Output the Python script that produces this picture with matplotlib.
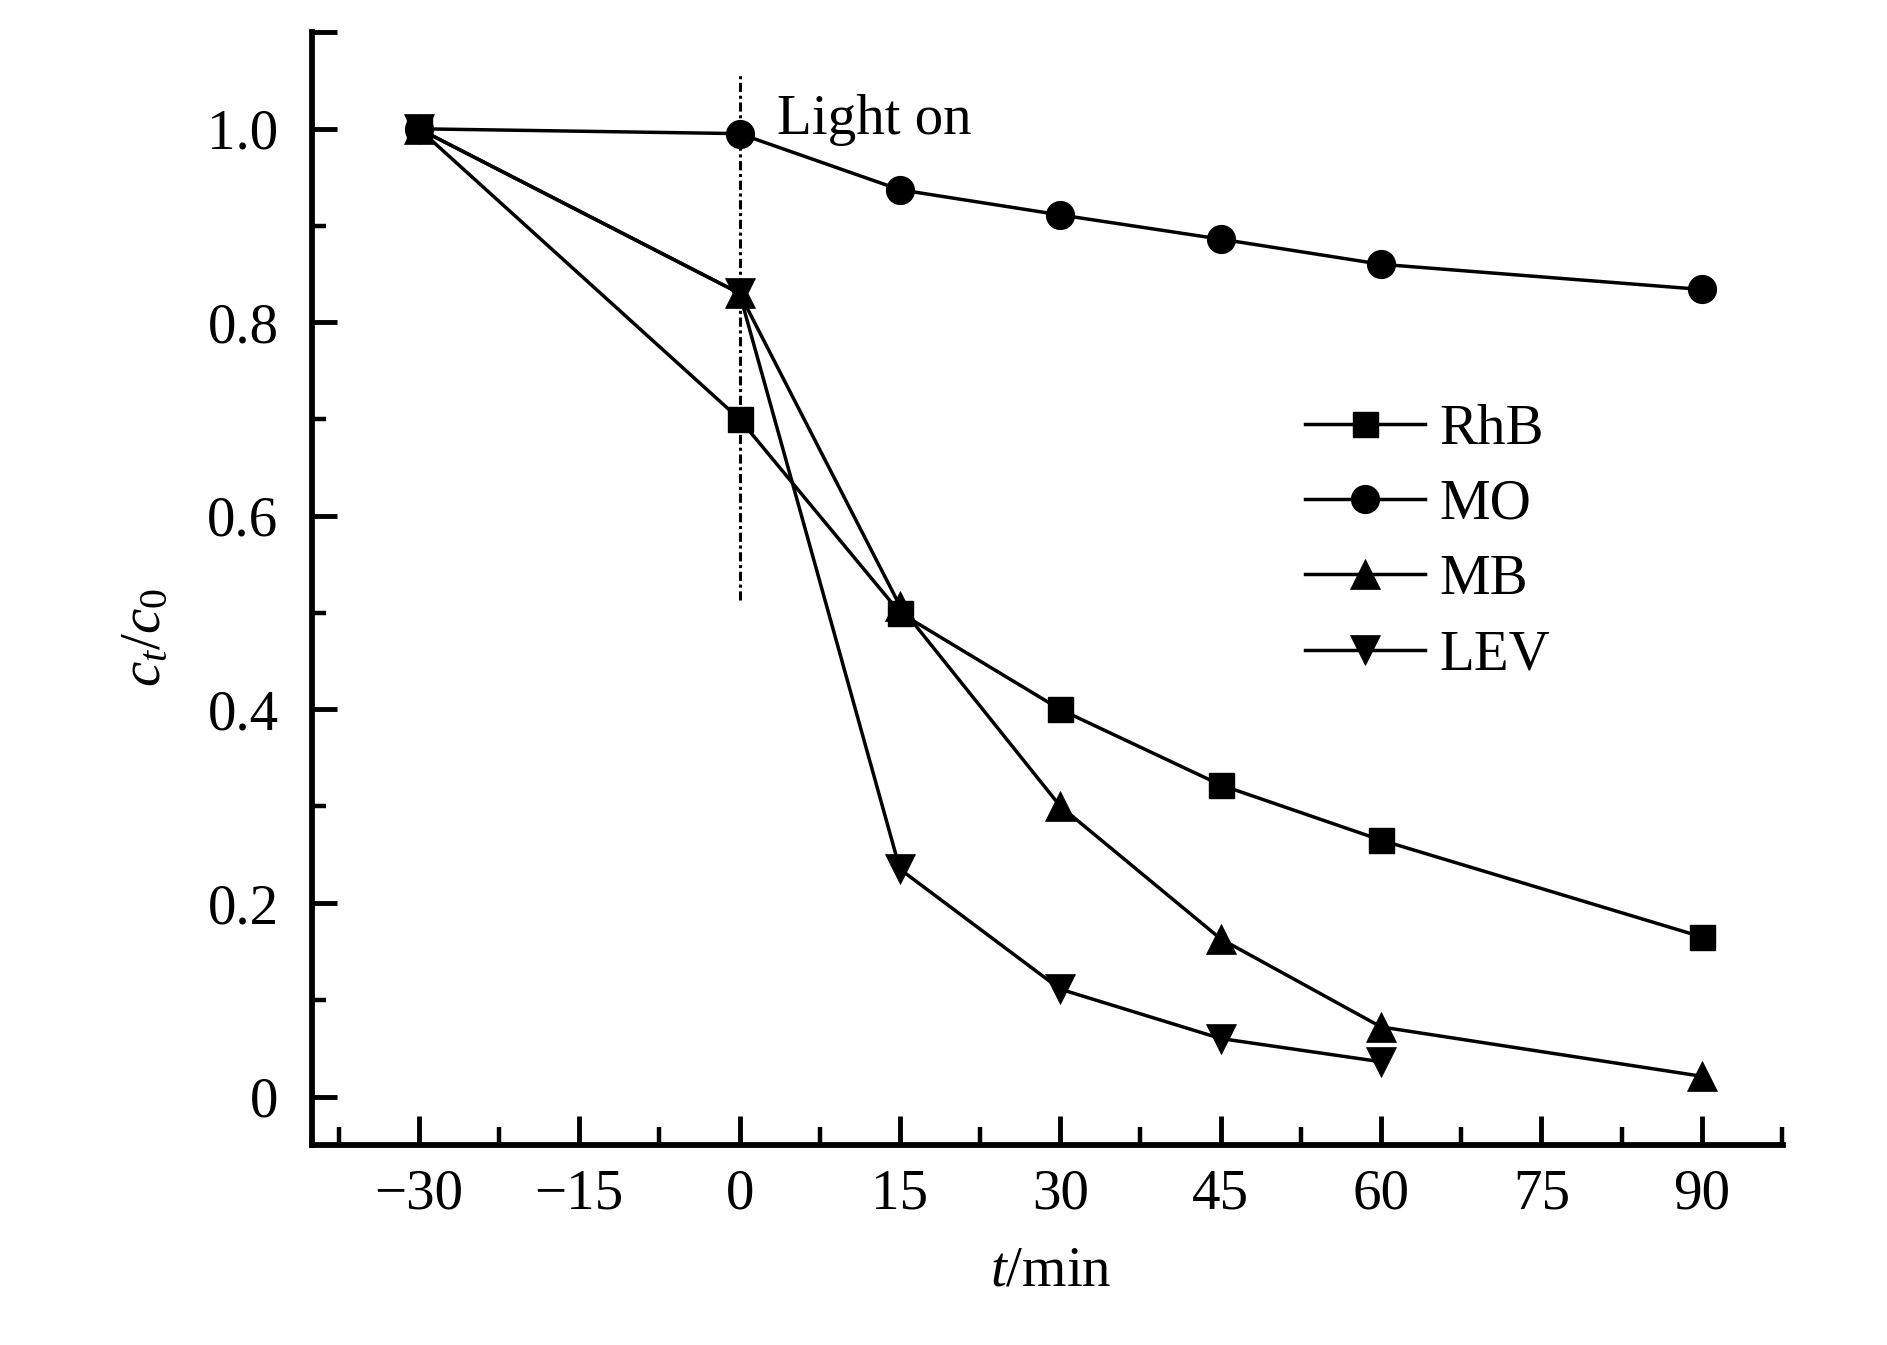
import matplotlib
matplotlib.use("Agg")
import matplotlib.pyplot as plt
from matplotlib.ticker import MultipleLocator, FixedLocator, FixedFormatter

plt.rcParams['font.family'] = ['Liberation Serif', 'DejaVu Serif']
plt.rcParams['mathtext.fontset'] = 'custom'
plt.rcParams['mathtext.rm'] = 'Liberation Serif'
plt.rcParams['mathtext.it'] = 'Liberation Serif:italic'

# data
t_main = [-30, 0, 15, 30, 45, 60, 90]
t_lev = [-30, 0, 15, 30, 45, 60]
rhb = [1.0, 0.70, 0.50, 0.40, 0.322, 0.265, 0.165]
mo = [1.0, 0.995, 0.937, 0.911, 0.886, 0.860, 0.834]
mb = [1.0, 0.83, 0.507, 0.30, 0.163, 0.072, 0.021]
lev = [1.0, 0.83, 0.235, 0.111, 0.06, 0.036]

y_ticks = [0, 0.2, 0.4, 0.6, 0.8, 1.0, 1.1]
y_labels = ['0', '0.2', '0.4', '0.6', '0.8', '1.0', '']

fs = 41
lw = 2.5

fig = plt.figure(figsize=(18.87, 13.45), dpi=100)
ax = fig.add_axes([0.1653, 0.1487, 0.7796, 0.8275])

ax.plot(t_main, rhb, color='k', lw=lw, marker='s', ms=18, label='RhB')
ax.plot(t_main, mo, color='k', lw=lw, marker='o', ms=20, label='MO')
ax.plot(t_main, mb, color='k', lw=lw, marker='^', ms=21.5, mew=0.5, label='MB')
ax.plot(t_lev, lev, color='k', lw=lw, marker='v', ms=21.5, mew=0.5, label='LEV')

ax.plot([0, 0], [0.513, 1.057], color='k', lw=2.2, ls=(0, (3, 1.2, 1, 1.2)))
ax.text(3.5, 0.995, 'Light on', fontsize=fs, va='baseline', ha='left')

ax.set_xlim(-40, 97.6)
ax.set_ylim(-0.05, 1.1)

ax.xaxis.set_major_locator(MultipleLocator(15))
ax.xaxis.set_minor_locator(MultipleLocator(7.5))
ax.yaxis.set_major_locator(FixedLocator(y_ticks))
ax.yaxis.set_major_formatter(FixedFormatter(y_labels))
ax.yaxis.set_minor_locator(FixedLocator([0.1, 0.3, 0.5, 0.7, 0.9]))

for s in ['top', 'right']:
    ax.spines[s].set_visible(False)
for s in ['left', 'bottom']:
    ax.spines[s].set_linewidth(4.2)

ax.tick_params(axis='x', which='major', direction='in', length=21, width=3.5, labelsize=fs, pad=17)
ax.tick_params(axis='x', which='minor', direction='in', length=13, width=3.2)
ax.tick_params(axis='y', which='major', direction='in', length=18, width=3.5, labelsize=fs, pad=24)
ax.tick_params(axis='y', which='minor', direction='in', length=10, width=3.2)

ax.set_xlabel(r'$t$/min', fontsize=fs)
ax.set_ylabel(r'$c_t/c_\mathrm{0}$', fontsize=fs)
ax.xaxis.set_label_coords(0.502, -0.09)
ax.yaxis.set_label_coords(-0.095, 0.456)

fig.legend(loc='upper left', bbox_to_anchor=(0.6916, 0.700), frameon=False,
           fontsize=fs, handlelength=2.1, handletextpad=0.26, labelspacing=0.41,
           borderpad=0, borderaxespad=0)

fig.savefig('out.png', dpi=100)
